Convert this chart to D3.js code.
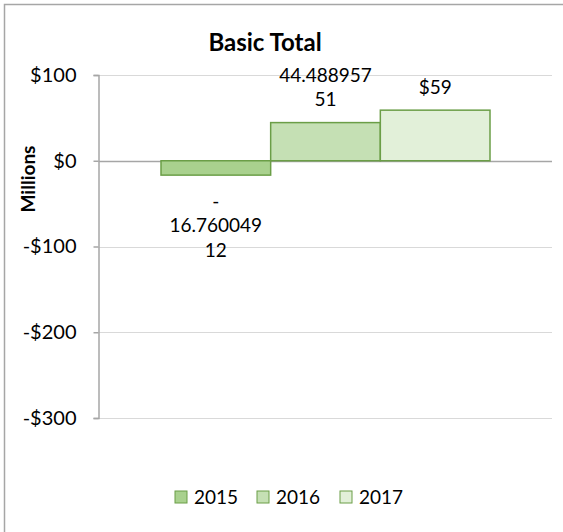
<!DOCTYPE html>
<html>
<head>
<meta charset="utf-8">
<script src="https://cdn.jsdelivr.net/npm/d3@7"></script>
<style>
  body{margin:0;background:#fff;}
  text{font-family:Lato,"Open Sans",sans-serif;fill:#000;}
</style>
</head>
<body>
<svg id="chart" width="563" height="532"></svg>
<script>
// data
const years = ["2015", "2016", "2017"];
const values = [-16.76004912, 44.48895751, 59];
const labels = [["-", "16.760049", "12"], ["44.488957", "51"], ["$59"]];
const yTicks = [100, 0, -100, -200, -300];
const fills = ["#a9d18e", "#c5e0b4", "#e2f0d9"];

const svg = d3.select("#chart");
const W = 563, H = 532;
const plot = {left: 98.5, right: 552, top: 75, bottom: 418};

// chart border (runs off the right and bottom edge)
svg.append("rect").attr("x", 4.5).attr("y", 4.5).attr("width", W).attr("height", H)
  .attr("fill", "#fff").attr("stroke", "#a6a6a6").attr("stroke-width", 1.5);

const y = d3.scaleLinear().domain([-300, 100]).range([plot.bottom, plot.top]);
const xBand = d3.scaleBand().domain(years)
  .range([161, 490]).padding(0);

// gridlines
svg.append("g").selectAll("line").data(yTicks).join("line")
  .attr("x1", plot.left).attr("x2", plot.right)
  .attr("y1", d => Math.round(y(d)) + 0.5).attr("y2", d => Math.round(y(d)) + 0.5)
  .attr("stroke", d => d == 0 ? "#a6a6a6" : "#d9d9d9").attr("stroke-width", d => d == 0 ? 1.5 : 1.2);

// y axis
const yAxis = d3.axisLeft(y).tickValues(yTicks).tickSize(5).tickPadding(17)
  .tickFormat(d => (d < 0 ? "-$" : "$") + Math.abs(d));
const gy = svg.append("g").attr("transform", `translate(${plot.left},0)`).call(yAxis);
gy.select(".domain").attr("stroke", "#a6a6a6").attr("stroke-width", 1.5);
gy.selectAll(".tick line").attr("stroke", "#a6a6a6").attr("stroke-width", 1.5);
gy.selectAll(".tick text").attr("font-size", 20).attr("font-family", "Lato,'Open Sans',sans-serif").attr("fill", "#000");

// bars
svg.append("g").selectAll("rect").data(values).join("rect")
  .attr("x", (d, i) => xBand(years[i]))
  .attr("width", xBand.bandwidth())
  .attr("y", d => y(Math.max(0, d)))
  .attr("height", d => Math.abs(y(d) - y(0)))
  .attr("fill", (d, i) => fills[i])
  .attr("stroke", "#6b9e47").attr("stroke-width", 1.5);

// data labels
const lh = 24.5;
labels.forEach((lines, i) => {
  const cx = xBand(years[i]) + xBand.bandwidth() / 2;
  const v = values[i];
  let startY;
  if (v < 0) startY = y(v) + 26;
  else startY = y(v) - 23 - (lines.length - 1) * lh;
  svg.append("text").attr("x", cx).attr("text-anchor", "middle").attr("font-size", 19)
    .selectAll("tspan").data(lines).join("tspan")
    .attr("x", cx).attr("y", (d, k) => startY + k * lh).attr("dy", "0.35em").text(d => d);
});

// title
svg.append("text").attr("x", 265).attr("y", 51).attr("text-anchor", "middle")
  .attr("font-size", 24).attr("font-weight", "bold").text("Basic Total");

// y axis title
svg.append("text").attr("transform", "translate(28,179) rotate(-90)")
  .attr("text-anchor", "middle").attr("dy", "0.35em")
  .attr("font-size", 19).attr("font-weight", "bold").text("Millions");

// legend
const legX = [175, 257, 340];
const lg = svg.append("g").selectAll("g").data(years).join("g")
  .attr("transform", (d, i) => `translate(${legX[i]},497)`);
lg.append("rect").attr("x", 0).attr("y", -6).attr("width", 12).attr("height", 12)
  .attr("fill", (d, i) => fills[i]).attr("stroke", "#6b9e47").attr("stroke-width", 1);
lg.append("text").attr("x", 19).attr("dy", "0.35em").attr("font-size", 19).text(d => d);
</script>
</body>
</html>
